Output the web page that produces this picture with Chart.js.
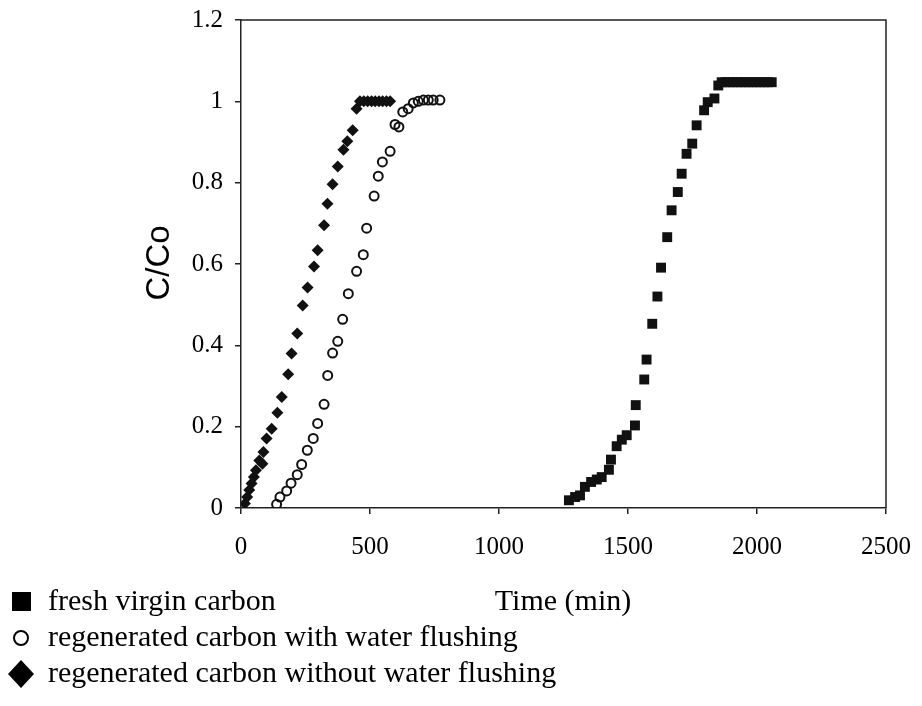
<!DOCTYPE html>
<html>
<head>
<meta charset="utf-8">
<script src="https://cdn.jsdelivr.net/npm/chart.js@4.4.1/dist/chart.umd.min.js"></script>
<style>
  html, body { margin: 0; padding: 0; background: #fff; }
  #wrap { width: 922px; height: 706px; position: relative; overflow: hidden; }
  #breakChart { position: absolute; left: 0; top: -7px; }
</style>
</head>
<body>
<div id="wrap"><canvas id="breakChart" width="929" height="713"></canvas></div>
<script>
// fresh virgin carbon (squares)
var freshX = [1271, 1295, 1314, 1333, 1357, 1379, 1398, 1426, 1434, 1456, 1476, 1495, 1527, 1530,
              1563, 1572, 1594, 1614, 1628, 1652, 1669, 1693, 1708, 1727, 1749, 1766, 1795, 1809,
              1835, 1850, 1863, 1878, 1893, 1908, 1923, 1938, 1953, 1968, 1983, 1998, 2013, 2028, 2043, 2057];
var freshY = [0.019, 0.027, 0.031, 0.052, 0.064, 0.070, 0.076, 0.094, 0.119, 0.152, 0.168, 0.179, 0.203, 0.253,
              0.316, 0.365, 0.453, 0.520, 0.591, 0.666, 0.732, 0.777, 0.822, 0.871, 0.896, 0.941, 0.978, 0.998,
              1.007, 1.039, 1.047, 1.047, 1.047, 1.047, 1.047, 1.047, 1.047, 1.047, 1.047, 1.047, 1.047, 1.047, 1.047, 1.047];

// regenerated carbon with water flushing (open circles)
var flushX = [138, 151, 177, 194, 218, 235, 257, 280, 297, 322, 336, 355, 375, 394, 416, 448,
              474, 487, 516, 532, 548, 578, 597, 612, 627, 648, 668, 687, 707, 726, 745, 771];
var flushY = [0.009, 0.027, 0.042, 0.061, 0.082, 0.107, 0.142, 0.171, 0.208, 0.255, 0.326, 0.381, 0.410, 0.464, 0.527, 0.582,
              0.623, 0.688, 0.767, 0.816, 0.851, 0.877, 0.943, 0.937, 0.974, 0.982, 0.996, 1.000, 1.003, 1.003, 1.003, 1.003];

// regenerated carbon without water flushing (diamonds)
var noFlushX = [15, 24, 32, 41, 50, 58, 71, 83, 87, 99, 119, 141, 158, 183, 196, 218, 239, 258,
                283, 297, 322, 335, 355, 375, 397, 412, 433, 448, 461, 476, 491, 506, 520, 535, 549, 564, 578];
var noFlushY = [0.011, 0.027, 0.044, 0.060, 0.076, 0.093, 0.117, 0.109, 0.138, 0.171, 0.195, 0.234, 0.273, 0.329, 0.380, 0.429, 0.498, 0.542,
                0.594, 0.634, 0.695, 0.748, 0.796, 0.840, 0.881, 0.902, 0.929, 0.982, 1.000, 1.000, 1.000, 1.000, 1.000, 1.000, 1.000, 1.000, 1.000];

var xTicks = [0, 500, 1000, 1500, 2000, 2500];
var yTicks = [0, 0.2, 0.4, 0.6, 0.8, 1, 1.2];

var seriesNames = ['fresh virgin carbon', 'regenerated carbon with water flushing', 'regenerated carbon without water flushing'];

function toPoints(xs, ys) {
    return xs.map(function(x, i) { return { x: x, y: ys[i] }; });
}

var serif = '"Liberation Serif", "Times New Roman", serif';
var shiftY = 7; // canvas sits 7px above the page top

// box round the plot, y title and the legend below the axis
var extras = {
    id: 'extras',
    beforeDatasetsDraw: function(chart) {
        var a = chart.chartArea, ctx = chart.ctx;
        ctx.save();
        ctx.strokeStyle = '#222';
        ctx.lineWidth = 1.5;
        ctx.beginPath();
        ctx.moveTo(a.left, a.top);
        ctx.lineTo(a.right, a.top);
        ctx.lineTo(a.right, a.bottom);
        ctx.stroke();
        ctx.restore();
    },
    afterDraw: function(chart) {
        var ctx = chart.ctx;
        ctx.save();
        ctx.fillStyle = '#000';
        ctx.strokeStyle = '#000';

        // y title
        ctx.translate(160, 263 + shiftY);
        ctx.rotate(-Math.PI / 2);
        ctx.font = '33px "Liberation Sans", Arial, sans-serif';
        ctx.textAlign = 'center';
        ctx.textBaseline = 'middle';
        ctx.fillText('C/Co', 0, 0);
        ctx.setTransform(1, 0, 0, 1, 0, 0);

        // x title sits beside the legend
        ctx.font = '30px ' + serif;
        ctx.textAlign = 'center';
        ctx.textBaseline = 'middle';
        ctx.fillText('Time (min)', 563, 602 + shiftY);

        // legend
        ctx.textAlign = 'left';
        var rows = [602 + shiftY, 638 + shiftY, 674 + shiftY];
        ctx.fillRect(12, rows[0] - 10, 19, 19);
        ctx.lineWidth = 2;
        ctx.beginPath();
        ctx.arc(21, rows[1], 7, 0, Math.PI * 2);
        ctx.stroke();
        ctx.beginPath();
        ctx.moveTo(21, rows[2] - 14);
        ctx.lineTo(34, rows[2]);
        ctx.lineTo(21, rows[2] + 14);
        ctx.lineTo(8, rows[2]);
        ctx.closePath();
        ctx.fill();
        for (var i = 0; i < seriesNames.length; i++) {
            ctx.fillText(seriesNames[i], 48, rows[i]);
        }
        ctx.restore();
    }
};

var ctx = document.getElementById('breakChart').getContext('2d');
var breakChart = new Chart(ctx, {
    type: 'scatter',
    data: {
        datasets: [{
            label: seriesNames[0],
            data: toPoints(freshX, freshY),
            pointStyle: 'rect',
            pointRadius: 7,
            backgroundColor: '#111',
            borderColor: '#111',
            borderWidth: 0
        }, {
            label: seriesNames[1],
            data: toPoints(flushX, flushY),
            pointStyle: 'circle',
            pointRadius: 4.5,
            backgroundColor: 'rgba(0,0,0,0)',
            borderColor: '#111',
            borderWidth: 2
        }, {
            label: seriesNames[2],
            data: toPoints(noFlushX, noFlushY),
            pointStyle: 'rectRot',
            pointRadius: 6,
            backgroundColor: '#111',
            borderColor: '#111',
            borderWidth: 0
        }]
    },
    options: {
        responsive: false,
        animation: false,
        layout: {
            padding: { top: 7, right: 22, bottom: 138, left: 0 }
        },
        scales: {
            x: {
                type: 'linear',
                min: 0,
                max: 2500,
                afterBuildTicks: function(scale) {
                    scale.ticks = xTicks.map(function(v) { return { value: v }; });
                },
                afterFit: function(scale) { scale.height = 60; },
                ticks: {
                    color: '#000',
                    padding: 18,
                    maxRotation: 0,
                    font: { family: serif, size: 25 },
                    callback: function(v) { return String(v); }
                },
                grid: { drawOnChartArea: false, drawTicks: true, tickLength: 6, color: '#222', lineWidth: 1.5 },
                border: { display: true, color: '#222', width: 1.5 }
            },
            y: {
                type: 'linear',
                min: 0,
                max: 1.2,
                afterBuildTicks: function(scale) {
                    scale.ticks = yTicks.map(function(v) { return { value: v }; });
                },
                afterFit: function(scale) { scale.width = 241; },
                ticks: {
                    color: '#000',
                    padding: 12,
                    font: { family: serif, size: 25 },
                    callback: function(v) { return String(Math.round(v * 10) / 10); }
                },
                grid: { drawOnChartArea: false, drawTicks: true, tickLength: 6, color: '#222', lineWidth: 1.5 },
                border: { display: true, color: '#222', width: 1.5 }
            }
        },
        plugins: {
            legend: { display: false },
            tooltip: { enabled: false },
            title: { display: false }
        }
    },
    plugins: [extras]
});
</script>
</body>
</html>
